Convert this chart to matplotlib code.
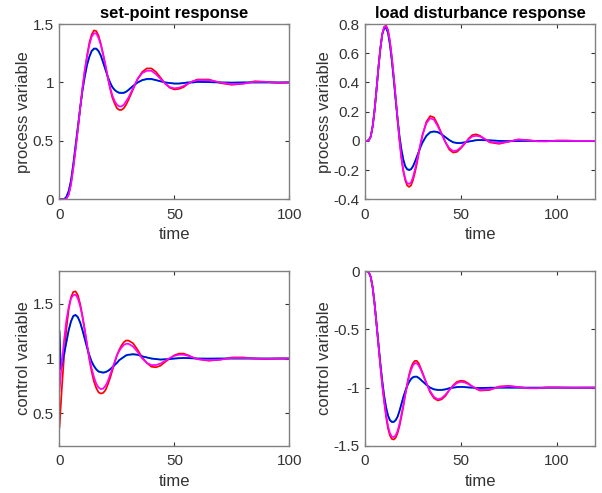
import matplotlib
matplotlib.use("Agg")
import matplotlib.pyplot as plt

plt.rcParams['font.family'] = ['Liberation Sans', 'DejaVu Sans']
plt.rcParams['axes.unicode_minus'] = False

# -------------------------------
# time grids
# -------------------------------
t_a = list(range(0, 31)) + list(range(32, 61, 2)) + list(range(65, 101, 5))
t_b = t_a + [105, 110, 115, 120]
t_c = [0, 0.6] + list(range(1, 31)) + list(range(32, 61, 2)) + list(range(65, 101, 5))

# -------------------------------
# set-point response, process variable (t_a)
# -------------------------------
sp_pv_red = [0, 0, 0, 0.005, 0.04, 0.13, 0.27, 0.43, 0.6, 0.78, 0.95, 1.1, 1.23, 1.34, 1.41, 1.445,
             1.44, 1.4, 1.33, 1.24, 1.14, 1.04, 0.95, 0.87, 0.82, 0.78, 0.765, 0.765, 0.78, 0.81, 0.85,
             0.94, 1.03, 1.09, 1.12, 1.12, 1.09, 1.04, 0.99, 0.955, 0.94, 0.945, 0.96, 0.99, 1.01, 1.025,
             1.025, 0.995, 0.98, 0.99, 1.01, 1.005, 0.995, 1.0]
sp_pv_mag = [0, 0, 0, 0.005, 0.04, 0.13, 0.27, 0.43, 0.6, 0.78, 0.95, 1.1, 1.22, 1.32, 1.39, 1.42,
             1.42, 1.38, 1.32, 1.24, 1.15, 1.05, 0.96, 0.89, 0.84, 0.81, 0.795, 0.795, 0.81, 0.84, 0.87,
             0.95, 1.03, 1.08, 1.1, 1.1, 1.07, 1.03, 0.99, 0.96, 0.95, 0.955, 0.97, 0.99, 1.01, 1.02,
             1.02, 1.0, 0.985, 0.99, 1.005, 1.005, 0.998, 1.0]
sp_pv_blue = [0, 0, 0, 0.02, 0.07, 0.16, 0.3, 0.46, 0.62, 0.78, 0.93, 1.05, 1.15, 1.22, 1.27, 1.29,
              1.29, 1.27, 1.23, 1.17, 1.11, 1.05, 1.0, 0.96, 0.935, 0.92, 0.91, 0.91, 0.91, 0.92, 0.935,
              0.97, 1.0, 1.02, 1.03, 1.03, 1.02, 1.01, 1.0, 0.995, 0.99, 0.99, 0.995, 1.0, 1.0, 1.005,
              1.003, 1.0, 0.998, 1.0, 1.0, 1.0, 1.0, 1.0]
sp_pv_green = [0, 0, 0, 0.02, 0.07, 0.16, 0.3, 0.46, 0.62, 0.78, 0.93, 1.05, 1.15, 1.22, 1.265, 1.285,
               1.285, 1.265, 1.225, 1.17, 1.11, 1.05, 1.0, 0.962, 0.938, 0.924, 0.915, 0.913, 0.915, 0.923, 0.937,
               0.97, 0.998, 1.018, 1.027, 1.027, 1.019, 1.009, 1.0, 0.995, 0.992, 0.992, 0.996, 1.0, 1.0, 1.004,
               1.002, 1.0, 0.999, 1.0, 1.0, 1.0, 1.0, 1.0]

# -------------------------------
# load disturbance response, process variable (t_b)
# -------------------------------
ld_pv_red = [0, 0, 0.005, 0.03, 0.1, 0.21, 0.35, 0.5, 0.63, 0.73, 0.78, 0.79, 0.76, 0.68, 0.57, 0.44,
             0.29, 0.14, 0.0, -0.12, -0.21, -0.27, -0.305, -0.315, -0.305, -0.27, -0.22, -0.16, -0.09, -0.02, 0.04,
             0.13, 0.17, 0.16, 0.11, 0.05, -0.01, -0.06, -0.08, -0.075, -0.05, -0.02, 0.015, 0.04, 0.045, 0.035,
             -0.01, -0.02, -0.005, 0.01, 0.005, -0.003, -0.003, 0.002, 0.002, 0.0, -0.001, 0.0]
ld_pv_mag = [0, 0, 0.005, 0.03, 0.1, 0.21, 0.35, 0.5, 0.63, 0.73, 0.78, 0.785, 0.755, 0.68, 0.57, 0.44,
             0.3, 0.15, 0.01, -0.11, -0.2, -0.26, -0.29, -0.295, -0.285, -0.25, -0.2, -0.14, -0.08, -0.02, 0.04,
             0.12, 0.155, 0.145, 0.1, 0.045, -0.01, -0.05, -0.07, -0.065, -0.045, -0.015, 0.01, 0.03, 0.035, 0.03,
             -0.005, -0.015, -0.005, 0.008, 0.004, -0.002, -0.002, 0.001, 0.001, 0.0, 0.0, 0.0]
ld_pv_blue = [0, 0, 0.005, 0.03, 0.1, 0.21, 0.35, 0.5, 0.63, 0.73, 0.77, 0.775, 0.74, 0.66, 0.55, 0.42,
              0.28, 0.15, 0.03, -0.06, -0.13, -0.175, -0.195, -0.2, -0.195, -0.175, -0.145, -0.11, -0.075, -0.04, -0.01,
              0.035, 0.06, 0.065, 0.06, 0.045, 0.025, 0.005, -0.01, -0.015, -0.015, -0.01, -0.005, 0.0, 0.005, 0.006,
              0.004, 0.0, -0.002, -0.001, 0.0, 0.0, 0.0, 0.0, 0.0, 0.0, 0.0, 0.0]
ld_pv_green = [0, 0, 0.005, 0.03, 0.1, 0.21, 0.35, 0.5, 0.63, 0.73, 0.77, 0.772, 0.738, 0.66, 0.55, 0.42,
               0.285, 0.155, 0.035, -0.055, -0.125, -0.17, -0.19, -0.196, -0.192, -0.173, -0.145, -0.112, -0.078, -0.044, -0.014,
               0.031, 0.056, 0.062, 0.058, 0.044, 0.025, 0.006, -0.008, -0.013, -0.013, -0.009, -0.004, 0.0, 0.004, 0.005,
               0.003, 0.0, -0.001, -0.001, 0.0, 0.0, 0.0, 0.0, 0.0, 0.0, 0.0, 0.0]

# -------------------------------
# set-point response, control variable (t_c)
# -------------------------------
sp_cv_red = [0.37, 0.58, 0.72, 1.02, 1.27, 1.45, 1.56, 1.61, 1.615, 1.58, 1.5, 1.39, 1.26, 1.12, 0.99, 0.88,
             0.79, 0.73, 0.69, 0.68, 0.685, 0.71, 0.76, 0.82, 0.89, 0.96, 1.03, 1.08, 1.12, 1.15, 1.165, 1.165,
             1.14, 1.08, 1.01, 0.96, 0.925, 0.92, 0.935, 0.97, 1.0, 1.03, 1.045, 1.045, 1.03, 1.01, 0.995,
             0.98, 0.99, 1.01, 1.01, 1.0, 0.995, 1.0, 1.0]
sp_cv_mag = [0.7, 0.86, 0.95, 1.17, 1.35, 1.47, 1.55, 1.58, 1.585, 1.55, 1.48, 1.38, 1.26, 1.13, 1.01, 0.91,
             0.83, 0.77, 0.735, 0.72, 0.725, 0.75, 0.79, 0.85, 0.91, 0.97, 1.03, 1.07, 1.1, 1.125, 1.135, 1.135,
             1.11, 1.06, 1.0, 0.96, 0.94, 0.94, 0.955, 0.98, 1.005, 1.025, 1.035, 1.035, 1.025, 1.01, 0.995,
             0.985, 0.99, 1.005, 1.005, 1.0, 0.998, 1.0, 1.0]
sp_cv_blue = [1.25, 0.9, 0.93, 1.04, 1.15, 1.26, 1.34, 1.39, 1.4, 1.38, 1.33, 1.26, 1.18, 1.1, 1.03, 0.97,
              0.93, 0.9, 0.88, 0.875, 0.87, 0.875, 0.885, 0.9, 0.92, 0.94, 0.96, 0.985, 1.0, 1.015, 1.03, 1.035,
              1.04, 1.035, 1.02, 1.01, 1.0, 0.995, 0.99, 0.993, 0.995, 1.0, 1.003, 1.005, 1.004, 1.002, 1.0,
              0.999, 1.0, 1.0, 1.0, 1.0, 1.0, 1.0, 1.0]
sp_cv_green = [1.24, 0.9, 0.93, 1.04, 1.15, 1.255, 1.335, 1.385, 1.395, 1.375, 1.33, 1.26, 1.18, 1.1, 1.035, 0.975,
               0.935, 0.905, 0.885, 0.878, 0.875, 0.878, 0.888, 0.903, 0.922, 0.942, 0.962, 0.985, 1.0, 1.013, 1.026, 1.032,
               1.037, 1.033, 1.02, 1.01, 1.0, 0.996, 0.992, 0.994, 0.996, 1.0, 1.003, 1.004, 1.003, 1.002, 1.0,
               0.999, 1.0, 1.0, 1.0, 1.0, 1.0, 1.0, 1.0]

# -------------------------------
# load disturbance response, control variable (t_b)
# -------------------------------
ld_cv_red = [0, 0, -0.01, -0.05, -0.14, -0.28, -0.45, -0.63, -0.81, -0.98, -1.12, -1.25, -1.35, -1.41, -1.44, -1.445,
             -1.43, -1.39, -1.33, -1.25, -1.16, -1.06, -0.97, -0.89, -0.83, -0.79, -0.77, -0.77, -0.79, -0.83, -0.87,
             -0.96, -1.04, -1.09, -1.11, -1.1, -1.07, -1.02, -0.98, -0.95, -0.94, -0.945, -0.965, -0.99, -1.01, -1.025,
             -1.02, -0.99, -0.985, -0.995, -1.005, -1.005, -0.998, -0.998, -1.0, -1.001, -1.0, -1.0]
ld_cv_mag = [0, 0, -0.01, -0.05, -0.14, -0.28, -0.45, -0.63, -0.81, -0.97, -1.11, -1.23, -1.33, -1.39, -1.42, -1.425,
             -1.41, -1.37, -1.31, -1.23, -1.15, -1.06, -0.98, -0.9, -0.85, -0.81, -0.79, -0.79, -0.81, -0.84, -0.88,
             -0.96, -1.03, -1.08, -1.1, -1.09, -1.06, -1.02, -0.985, -0.96, -0.95, -0.955, -0.97, -0.99, -1.005, -1.02,
             -1.015, -0.995, -0.988, -0.995, -1.004, -1.004, -0.999, -0.999, -1.0, -1.0, -1.0, -1.0]
ld_cv_blue = [0, 0, -0.01, -0.05, -0.14, -0.28, -0.45, -0.62, -0.79, -0.94, -1.07, -1.17, -1.24, -1.28, -1.295, -1.295,
              -1.28, -1.25, -1.2, -1.14, -1.08, -1.03, -0.985, -0.95, -0.925, -0.91, -0.905, -0.905, -0.915, -0.93, -0.945,
              -0.975, -1.0, -1.015, -1.02, -1.02, -1.015, -1.005, -1.0, -0.995, -0.993, -0.995, -0.998, -1.0, -1.002, -1.003,
              -1.001, -1.0, -1.0, -1.0, -1.0, -1.0, -1.0, -1.0, -1.0, -1.0, -1.0, -1.0]
ld_cv_green = [0, 0, -0.01, -0.05, -0.14, -0.28, -0.45, -0.62, -0.79, -0.94, -1.07, -1.165, -1.235, -1.275, -1.29, -1.29,
               -1.276, -1.248, -1.2, -1.142, -1.083, -1.033, -0.99, -0.955, -0.93, -0.915, -0.91, -0.91, -0.918, -0.932, -0.947,
               -0.976, -0.999, -1.013, -1.018, -1.018, -1.013, -1.005, -1.0, -0.996, -0.994, -0.996, -0.998, -1.0, -1.002, -1.002,
               -1.001, -1.0, -1.0, -1.0, -1.0, -1.0, -1.0, -1.0, -1.0, -1.0, -1.0, -1.0]

# -------------------------------
# figure
# -------------------------------
fig = plt.figure(figsize=(6.02, 4.93), dpi=100)
ax_tl = fig.add_axes([0.0988, 0.5957, 0.3818, 0.3556])
ax_tr = fig.add_axes([0.6063, 0.5957, 0.3821, 0.3556])
ax_bl = fig.add_axes([0.0988, 0.0955, 0.3818, 0.3545])
ax_br = fig.add_axes([0.6063, 0.0955, 0.3821, 0.3545])

panels = [
    (ax_tl, t_a, sp_pv_red, sp_pv_mag, sp_pv_blue, sp_pv_green),
    (ax_tr, t_b, ld_pv_red, ld_pv_mag, ld_pv_blue, ld_pv_green),
    (ax_bl, t_c, sp_cv_red, sp_cv_mag, sp_cv_blue, sp_cv_green),
    (ax_br, t_b, ld_cv_red, ld_cv_mag, ld_cv_blue, ld_cv_green),
]

lw = 1.25
txt = '#333333'
for ax, t, r, m, b, g in panels:
    ax.plot(t, r, color='#ff0000', lw=lw)
    ax.plot(t, g, color='#00ff00', lw=lw)
    ax.plot(t, b, color='#0000ff', lw=lw)
    ax.plot(t, m, color='#ff00ff', lw=lw)
    ax.set_xlabel('time', fontsize=12, color=txt, labelpad=4)
    ax.tick_params(direction='in', top=True, right=True, length=3, width=0.8,
                   labelsize=11, colors=txt)
    ax.tick_params(axis='x', pad=6)
    ax.tick_params(axis='y', pad=4)
    for s in ax.spines.values():
        s.set_color('#808080')
        s.set_linewidth(1.0)

ax_tl.set_xlim(0, 100)
ax_tl.set_ylim(0, 1.5)
ax_tl.set_xticks([0, 50, 100])
ax_tl.set_yticks([0, 0.5, 1, 1.5])
ax_tl.set_yticklabels(['0', '0.5', '1', '1.5'])
ax_tl.set_ylabel('process variable', fontsize=12, color=txt, labelpad=1)
ax_tl.set_title('set-point response', fontsize=12, fontweight='bold', pad=4)

ax_tr.set_xlim(0, 120)
ax_tr.set_ylim(-0.4, 0.8)
ax_tr.set_xticks([0, 50, 100])
ax_tr.set_yticks([-0.4, -0.2, 0, 0.2, 0.4, 0.6, 0.8])
ax_tr.set_yticklabels(['-0.4', '-0.2', '0', '0.2', '0.4', '0.6', '0.8'])
ax_tr.set_ylabel('process variable', fontsize=12, color=txt, labelpad=1)
ax_tr.set_title('load disturbance response', fontsize=12, fontweight='bold', pad=4)

ax_bl.set_xlim(0, 100)
ax_bl.set_ylim(0.2, 1.8)
ax_bl.set_xticks([0, 50, 100])
ax_bl.set_yticks([0.5, 1, 1.5])
ax_bl.set_yticklabels(['0.5', '1', '1.5'])
ax_bl.set_ylabel('control variable', fontsize=12, color=txt, labelpad=1)

ax_br.set_xlim(0, 120)
ax_br.set_ylim(-1.5, 0)
ax_br.set_xticks([0, 50, 100])
ax_br.set_yticks([-1.5, -1, -0.5, 0])
ax_br.set_yticklabels(['-1.5', '-1', '-0.5', '0'])
ax_br.set_ylabel('control variable', fontsize=12, color=txt, labelpad=1)

fig.savefig('out.png', dpi=100)
